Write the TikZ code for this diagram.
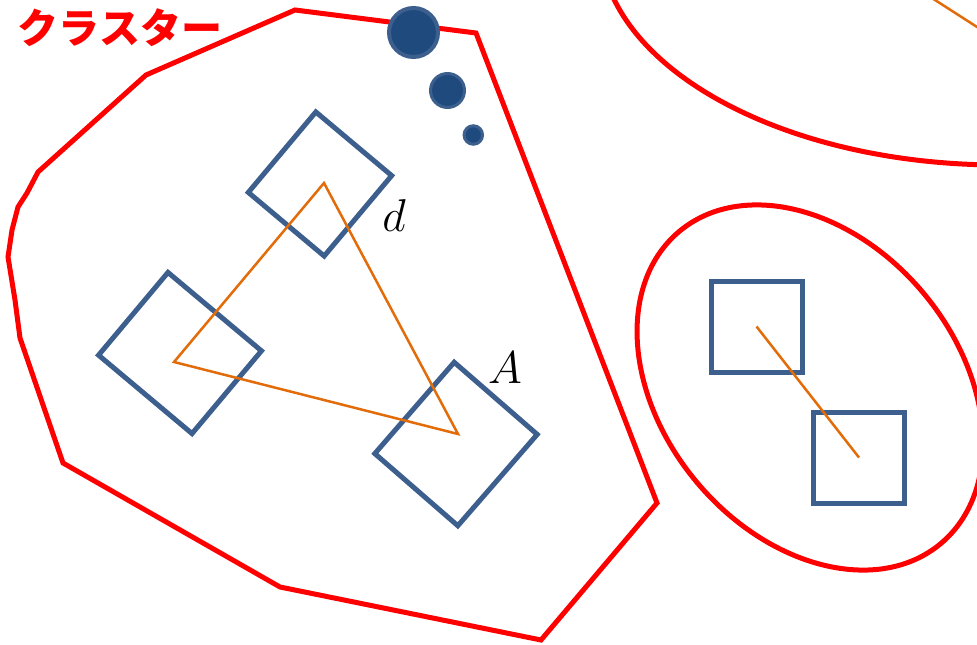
\RequirePackage{fix-cm}
\documentclass[tikz,border=0pt]{standalone}
\usepackage{fontspec}
\usepackage{tikz}
\newfontfamily\jpfont{Noto Sans CJK JP}
\definecolor{clred}{HTML}{FF0000}
\definecolor{objblue}{HTML}{3C5F8E}
\definecolor{dotblue}{HTML}{1F4A7E}
\definecolor{linkorange}{HTML}{E36C0A}
\tikzset{
    hull/.style={draw=clred,line width=5pt},
    obj/.style={draw=objblue,line width=5pt,inner sep=0pt,outer sep=0pt},
    link/.style={draw=linkorange,line width=2.5pt},
    dot/.style={circle,draw=objblue,fill=dotblue,inner sep=0pt},
    mlabel/.style={inner sep=0pt,font=\fontsize{46}{46}\selectfont},
    title/.style={inner sep=0pt,text=clred,font=\jpfont\bfseries\fontsize{41}{41}\selectfont},
}

\begin{document}
\begin{tikzpicture}[x=1pt,y=-1pt]
    \useasboundingbox (0,0) rectangle (977,645);
    \clip (0,0) rectangle (977,645);

    \draw[hull] (295,10) -- (476,33) -- (657,503) -- (541,640) -- (280,587)
        -- (63,463) -- (20,338) -- (15,300) -- (8,257) -- (12,230) -- (18,207)
        -- (27,193) -- (38,172) -- (146,75) -- cycle;
    \draw[hull,rotate around={-50:(810,387.5)}] (810,387.5) ellipse [x radius=203.6,y radius=147.6];
    \draw[hull] (1000,-60) ellipse [x radius=400,y radius=225];

    \node[obj,minimum width=99pt,minimum height=105pt,rotate=-40] (sqa) at (320,184) {};
    \node[obj,minimum width=122pt,minimum height=108pt,rotate=-40] (sqb) at (180,353) {};
    \node[obj,minimum width=110pt,minimum height=121pt,rotate=-41] (sqc) at (456,444) {};
    \node[obj,minimum size=91pt] (sqd) at (756.5,326.5) {};
    \node[obj,minimum size=91pt] (sqe) at (859,457.5) {};

    \coordinate (ca) at (324,183);
    \coordinate (cb) at (174,362);
    \coordinate (cc) at (458,434);
    \coordinate (ua) at (900,-22.5);
    \coordinate (ub) at (1020,54.6);

    \draw[link] (ca) -- (cb) -- (cc) -- cycle;
    \draw[link] (sqd.center) -- (sqe.center);
    \draw[link] (ua) -- (ub);

    \node[dot,line width=4pt,minimum size=49pt] (dota) at (413.5,32.5) {};
    \node[dot,line width=3pt,minimum size=34pt] (dotb) at (447.5,90.5) {};
    \node[dot,line width=3pt,minimum size=18.5pt] (dotc) at (473.3,135) {};

    \node[mlabel] (labd) at (394,216) {$d$};
    \node[mlabel] (laba) at (505,368) {$A$};
    \node[title] (clname) at (120,28) {クラスター};
\end{tikzpicture}
\end{document}
